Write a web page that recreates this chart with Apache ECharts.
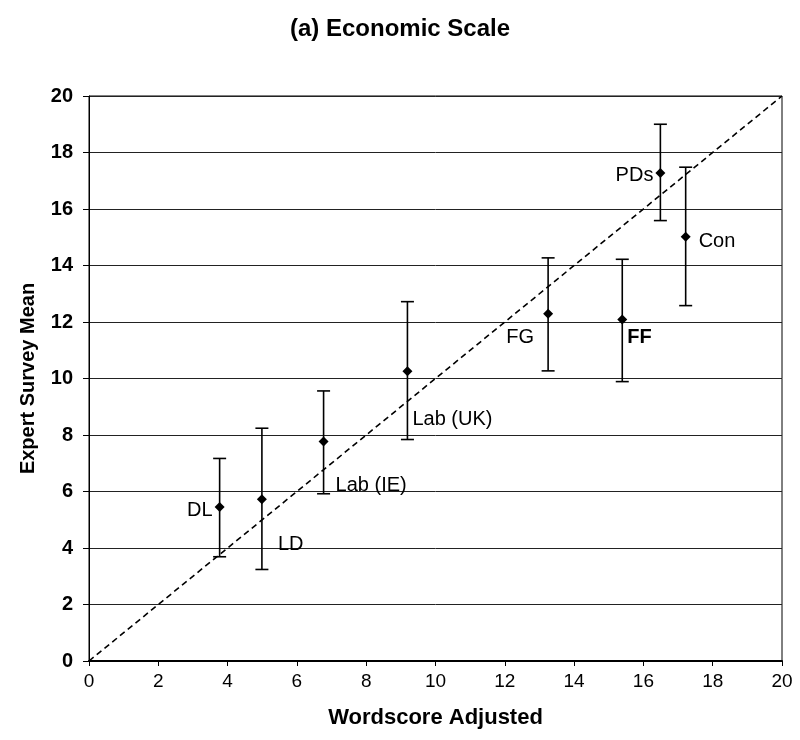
<!DOCTYPE html>
<html>
<head>
<meta charset="utf-8">
<script src="https://cdn.jsdelivr.net/npm/echarts@6/dist/echarts.min.js"></script>
<style>html,body{margin:0;padding:0;background:#fff}#c{width:800px;height:740px}</style>
</head>
<body>
<div id="c"></div>
<script>
var parties = ['DL', 'LD', 'Lab (IE)', 'Lab (UK)', 'FG', 'FF', 'PDs', 'Con'];
var wordscore = [3.77, 4.99, 6.77, 9.19, 13.25, 15.39, 16.49, 17.22];
var expertMean = [5.45, 5.73, 7.77, 10.26, 12.29, 12.09, 17.27, 15.02];
var errLow = [3.69, 3.24, 5.92, 7.84, 10.27, 9.89, 15.59, 12.58];
var errHigh = [7.17, 8.24, 9.56, 12.72, 14.27, 14.22, 19.0, 17.48];
var diagonal = [[0, 0], [20, 20]];

var FONT = 'Liberation Sans, Arial, sans-serif';
var labelPos = ['left', 'right', 'right', 'right', 'left', 'right', 'left', 'right'];
var labelOff = [[3, 3], [6, 45], [2, 44], [-5, 48], [-4, 24], [-5, 18], [3, 2], [3, 5]];

var points = parties.map(function (p, i) {
  return {
    value: [wordscore[i], expertMean[i]],
    label: { show: true, formatter: p, position: labelPos[i], offset: labelOff[i],
      color: '#000', fontSize: 20, fontFamily: FONT, opacity: 1, textBorderWidth: 0,
      fontWeight: p === 'FF' ? 'bold' : 'normal' }
  };
});
var bars = parties.map(function (p, i) { return [wordscore[i], errLow[i], errHigh[i]]; });

var chart = echarts.init(document.getElementById('c'));
chart.setOption({
  backgroundColor: '#fff',
  animation: false,
  textStyle: { fontFamily: FONT, color: '#000' },
  title: {
    text: '(a) Economic Scale', left: 'center', top: 12,
    textStyle: { fontSize: 24, fontWeight: 'bold', color: '#000', fontFamily: FONT }
  },
  grid: { left: 89, right: 18, top: 96, bottom: 79, show: true, borderColor: '#000', borderWidth: 1 },
  xAxis: {
    type: 'value', min: 0, max: 20, interval: 2,
    name: 'Wordscore Adjusted', nameLocation: 'middle', nameGap: 46,
    nameTextStyle: { fontSize: 22, fontWeight: 'bold', color: '#000', fontFamily: FONT },
    axisLine: { show: true, lineStyle: { color: '#000', width: 2 } },
    axisTick: { show: true, inside: false, length: 5, lineStyle: { color: '#000' } },
    axisLabel: { fontSize: 19, color: '#000', margin: 11, fontFamily: FONT },
    splitLine: { show: false }
  },
  yAxis: {
    type: 'value', min: 0, max: 20, interval: 2,
    name: 'Expert Survey Mean', nameLocation: 'middle', nameGap: 51,
    nameTextStyle: { fontSize: 20, fontWeight: 'bold', color: '#000', fontFamily: FONT },
    axisLine: { show: true, lineStyle: { color: '#000', width: 1 } },
    axisTick: { show: true, inside: false, length: 6, lineStyle: { color: '#000' } },
    axisLabel: { fontSize: 20, fontWeight: 'bold', color: '#000', margin: 16, fontFamily: FONT },
    splitLine: { show: true, lineStyle: { color: '#222', width: 1 } }
  },
  series: [
    {
      type: 'line', data: diagonal, symbol: 'none', silent: true,
      lineStyle: { color: '#000', width: 1.6, type: [6, 4] }
    },
    {
      type: 'custom', data: bars, silent: true,
      renderItem: function (params, api) {
        var top = api.coord([api.value(0), api.value(2)]);
        var bot = api.coord([api.value(0), api.value(1)]);
        var hw = 6.5;
        var st = { stroke: '#000', lineWidth: 1.6 };
        return {
          type: 'group',
          children: [
            { type: 'line', shape: { x1: top[0], y1: top[1], x2: bot[0], y2: bot[1] }, style: st },
            { type: 'line', shape: { x1: top[0] - hw, y1: top[1], x2: top[0] + hw, y2: top[1] }, style: st },
            { type: 'line', shape: { x1: bot[0] - hw, y1: bot[1], x2: bot[0] + hw, y2: bot[1] }, style: st }
          ]
        };
      },
      z: 3
    },
    {
      type: 'scatter', data: points, symbol: 'diamond', symbolSize: 10,
      itemStyle: { color: '#000', opacity: 1 },
      label: { color: '#000', fontSize: 20, fontFamily: FONT },
      z: 4
    }
  ]
});
</script>
</body>
</html>
